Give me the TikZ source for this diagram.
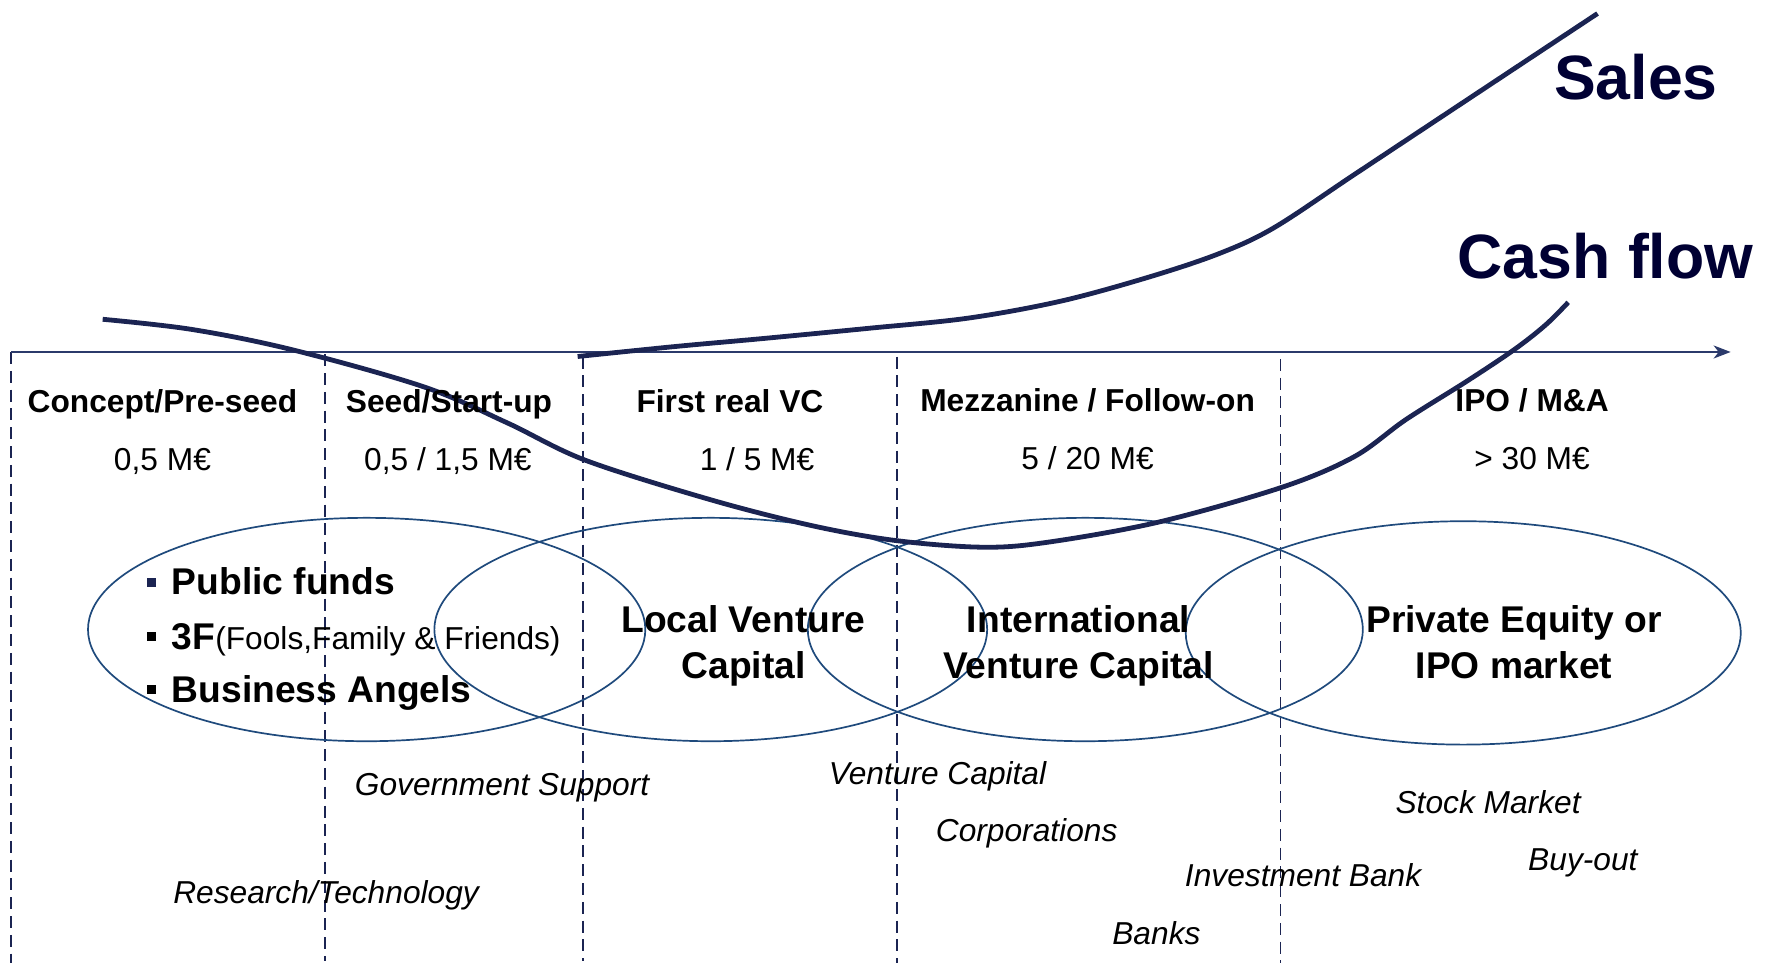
\documentclass[tikz,border=0pt]{standalone}
\usepackage{fontspec}
\setmainfont{Liberation Sans}
\usetikzlibrary{arrows.meta}
\definecolor{navy}{HTML}{1B2452}
\definecolor{ellc}{HTML}{1F4A7C}
\definecolor{axisc}{HTML}{2B3A6B}
\definecolor{bigc}{HTML}{000033}
\tikzset{
  stage/.style={font=\bfseries\fontsize{15.85}{18}\selectfont, anchor=base, inner sep=0pt},
  amount/.style={font=\fontsize{15.85}{18}\selectfont, anchor=base, inner sep=0pt},
  src/.style={font=\itshape\fontsize{15.85}{18}\selectfont, anchor=base, inner sep=0pt},
  big/.style={font=\bfseries\fontsize{31.3}{36}\selectfont, text=bigc, anchor=base, inner sep=0pt},
  elltext/.style={font=\bfseries\fontsize{18.6}{22.5}\selectfont, align=center, anchor=base, inner sep=0pt},
  itemtext/.style={font=\bfseries\fontsize{18.6}{22}\selectfont, anchor=base west, inner sep=0pt},
  bul/.style={fill=#1, minimum size=4.6pt, inner sep=0pt, draw=none},
  ell/.style={draw=ellc, line width=0.85pt},
  sep/.style={draw=navy, line width=0.9pt, dash pattern=on 6pt off 3.4pt},
  curve/.style={draw=navy, line width=2.4pt},
}
\begin{document}
\begin{tikzpicture}[x=0.564pt,y=-0.564pt]
\useasboundingbox (0,0) rectangle (1568,854);

% vertical dashed separators
\coordinate (s0t) at (10,312);   \coordinate (s0b) at (10,854);
\coordinate (s1t) at (288,314);  \coordinate (s1b) at (288,852);
\coordinate (s2t) at (517,316);  \coordinate (s2b) at (517,852);
\coordinate (s3t) at (795,316);  \coordinate (s3b) at (795,854);
\coordinate (s4t) at (1135,318); \coordinate (s4b) at (1135,854);
\foreach \i in {0,...,4} \draw[sep] (s\i t) -- (s\i b);

% time axis
\coordinate (ax0) at (10,312);
\coordinate (ax1) at (1534,312);
\draw[axisc, line width=1.1pt, -{Stealth[length=8.5pt,width=6.5pt,inset=2.5pt]}] (ax0) -- (ax1);

% ellipses
\draw[ell] (325,558) ellipse [x radius=247, y radius=99];
\draw[ell] (630,558) ellipse [x radius=245, y radius=99];
\draw[ell] (962,558) ellipse [x radius=246, y radius=99];
\draw[ell] (1297,561) ellipse [x radius=246, y radius=99];

% curves
\draw[curve] plot[smooth, tension=0.55] coordinates {(512,316) (600,307) (677,300) (770,291) (858,282) (940,267) (1017,246) (1080,225) (1129,202) (1200,155) (1280,102) (1354,53) (1416,12)};
\draw[curve] plot[smooth, tension=0.55] coordinates {(91,283) (170,292) (259,310) (376,343) (450,375) (519,408) (630,443) (720,466) (793,479) (869,485) (926,481) (1026,463) (1136,432) (1200,405) (1246,372) (1300,338) (1342,310) (1370,288) (1390,268)};

% big labels
\node[big] (sales) at (1450,88) {Sales};
\node[big] (cash) at (1423,247) {Cash flow};

% stage labels
\node[stage] (st1) at (144,366) {Concept/Pre-seed};
\node[stage] (st2) at (398,366) {Seed/Start-up};
\node[stage] (st3) at (647,366) {First real VC};
\node[stage] (st4) at (964,365) {Mezzanine / Follow-on};
\node[stage] (st5) at (1358,365) {IPO / M\&A};

% amounts
\node[amount] (am1) at (144,417) {0,5 M€};
\node[amount] (am2) at (397,417) {0,5 / 1,5 M€};
\node[amount] (am3) at (671,417) {1 / 5 M€};
\node[amount] (am4) at (964,416) {5 / 20 M€};
\node[amount] (am5) at (1358,416) {> 30 M€};

% bullet list in first ellipse
\node[bul=navy] (b1) at (134,516) {};
\node[bul=black] (b2) at (134,564) {};
\node[bul=black] (b3) at (134,611) {};
\node[itemtext] (i1) at (152,527) {Public funds};
\node[itemtext] (i2) at (152,576) {3F{\mdseries\fontsize{15.85}{18}\selectfont(Fools,Family \& Friends)}};
\node[itemtext] (i3) at (152,623) {Business Angels};

% ellipse texts
\node[elltext] (e2a) at (659,561) {Local Venture};
\node[elltext] (e2b) at (659,601) {Capital};
\node[elltext] (e3a) at (956,561) {International};
\node[elltext] (e3b) at (956,601) {Venture Capital};
\node[elltext] (e4a) at (1342,561) {Private Equity or};
\node[elltext] (e4b) at (1342,601) {IPO market};

% sources
\node[src] (g1) at (445,705) {Government Support};
\node[src] (g2) at (831,695) {Venture Capital};
\node[src] (g3) at (1319,721) {Stock Market};
\node[src] (g4) at (910,746) {Corporations};
\node[src] (g5) at (1403,772) {Buy-out};
\node[src] (g6) at (1155,786) {Investment Bank};
\node[src] (g7) at (289,801) {Research/Technology};
\node[src] (g8) at (1025,837) {Banks};
\end{tikzpicture}
\end{document}
